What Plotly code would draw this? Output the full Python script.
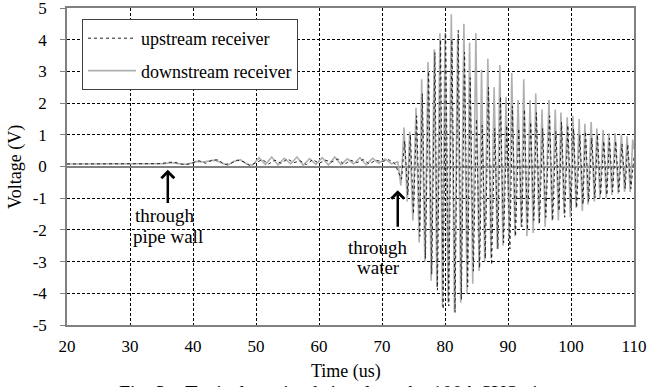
import plotly.graph_objects as go

# ---------------- data ----------------
# pre-arrival part (time in us, voltage in V)
up_pre_t = [20, 34, 35, 36, 37, 38, 39, 40, 41, 42, 43, 44, 45, 46, 47, 48, 49, 50, 51, 52,
            53, 54, 55, 56, 57, 58, 59, 60, 61, 62, 63, 64, 65, 66, 67, 68, 69, 70, 71, 72]
up_pre_v = [0.08, 0.08, 0.09, 0.13, 0.14, 0.08, 0.06, 0.12, 0.18, 0.1, 0.2, 0.21, 0.06, 0.1,
            0.2, 0.15, 0.03, 0.12, 0.22, 0.08, 0.2, 0.1, 0.24, 0.12, 0.18, 0.06, 0.22, 0.1,
            0.2, 0.14, 0.24, 0.06, 0.2, 0.12, 0.22, 0.08, 0.2, 0.15, 0.22, 0.1]

dn_pre_t = [20, 35, 35.5, 36.5, 37.5, 38.5, 39.5, 40.5, 41.5, 42.5, 43.5, 44.5, 45.5, 46.5,
            47.5, 48.5, 49.5, 50.5, 51.5, 52.5, 53.5, 54.5, 55.5, 56.5, 57.5, 58.5, 59.5,
            60.5, 61.5, 62.5, 63.5, 64.5, 65.5, 66.5, 67.5, 68.5, 69.5, 70.5, 71.5, 72.5]
dn_pre_v = [0.08, 0.08, 0.09, 0.12, 0.1, 0.07, 0.09, 0.16, 0.14, 0.16, 0.2, 0.12, 0.04, 0.16,
            0.22, 0.08, 0.05, 0.28, 0.06, 0.3, 0.05, 0.26, 0.08, 0.3, 0.04, 0.25, 0.07, 0.28,
            0.05, 0.3, 0.06, 0.24, 0.08, 0.28, 0.05, 0.26, 0.1, 0.24, 0.08, 0.15]

# through-water burst: positive and negative peaks
dn_pos_t = [73.5, 74.4, 75.4, 76.3, 77.3, 78.3, 79.2, 80.0, 81.0, 82.0, 83.0, 83.9, 84.9, 85.8,
            86.8, 87.8, 88.7, 89.7, 90.6, 91.6, 92.5, 93.5, 94.4, 95.4, 96.5, 97.5, 98.4, 99.4,
            100.3, 101.3, 102.2, 103.2, 104.1, 105.1, 106.0, 107.0, 108.0, 108.9, 109.8]
dn_pos_v = [1.23, 1.1, 1.85, 2.75, 3.3, 3.7, 4.2, 4.2, 4.8, 4.0, 4.5, 3.9, 4.2, 3.05, 3.4, 2.5,
            3.2, 2.2, 2.95, 2.1, 2.75, 2.1, 2.3, 1.8, 2.1, 1.8, 1.7, 1.55, 1.6, 1.5, 1.35, 1.4,
            1.2, 1.15, 1.05, 1.05, 1.0, 0.95, 0.85]
dn_neg_t = [73.0, 74.0, 74.9, 75.9, 76.8, 77.8, 78.7, 79.6, 80.5, 81.5, 82.5, 83.5, 84.4, 85.4,
            86.3, 87.3, 88.3, 89.2, 90.2, 91.1, 92.1, 93.0, 94.0, 94.9, 95.9, 97.0, 98.0, 98.9,
            99.9, 100.8, 101.8, 102.7, 103.7, 104.6, 105.6, 106.5, 107.5, 108.5, 109.4, 110.0]
dn_neg_v = [-0.6, -1.1, -1.7, -2.4, -3.0, -3.6, -3.8, -4.4, -4.3, -4.6, -4.3, -4.0, -3.7, -3.3,
            -3.0, -2.9, -2.6, -2.5, -2.3, -2.2, -1.9, -2.2, -2.1, -1.8, -1.9, -1.7, -1.7, -1.5,
            -1.6, -1.3, -1.4, -1.2, -1.1, -1.0, -1.0, -0.9, -0.85, -0.8, -0.8, 0.55]

up_pos_t = [73.6, 74.5, 75.5, 76.4, 77.4, 78.4, 79.3, 80.1, 81.1, 82.1, 83.1, 84.0, 85.0, 85.9,
            86.9, 87.9, 88.8, 89.8, 90.7, 91.7, 92.6, 93.6, 94.5, 95.5, 96.6, 97.6, 98.5, 99.5,
            100.4, 101.4, 102.3, 103.3, 104.2, 105.2, 106.1, 107.1, 108.1, 109.0]
up_pos_v = [0.8, 1.0, 1.6, 2.3, 3.0, 3.6, 4.0, 4.3, 4.0, 4.3, 3.6, 2.8, 1.5, 1.3, 2.5, 1.2,
            2.2, 1.3, 1.9, 1.2, 1.8, 1.4, 1.7, 1.2, 1.6, 1.1, 1.4, 1.3, 1.2, 1.0, 1.1, 0.9,
            1.0, 0.8, 0.9, 0.8, 0.7, 0.7]
up_neg_t = [73.1, 74.1, 75.0, 76.0, 76.9, 77.9, 78.8, 79.7, 80.6, 81.6, 82.6, 83.6, 84.5, 85.5,
            86.4, 87.4, 88.4, 89.3, 90.3, 91.2, 92.2, 93.1, 94.1, 95.0, 96.0, 97.1, 98.1, 99.0,
            100.0, 100.9, 101.9, 102.8, 103.8, 104.7, 105.7, 106.6, 107.6, 108.6, 109.5, 110.0]
up_neg_v = [-0.4, -0.9, -1.5, -2.2, -2.9, -3.4, -3.9, -4.5, -4.4, -4.6, -4.2, -3.8, -3.3, -3.2,
            -2.9, -3.1, -2.6, -2.4, -2.6, -2.2, -1.9, -2.0, -1.7, -1.8, -1.6, -1.7, -1.4, -1.6,
            -1.3, -1.3, -1.2, -1.1, -1.0, -0.9, -0.9, -0.8, -0.8, -0.7, -0.7, 0.3]

x_ticks = [20, 30, 40, 50, 60, 70, 80, 90, 100, 110]
y_ticks = [-5, -4, -3, -2, -1, 0, 1, 2, 3, 4, 5]
y_tick_labels = ["-5", "-4", "-3", "-2", "-1", "0", "1", "2", "3", "4", "5"]


def merge(*pairs):
    pts = []
    for t, v in pairs:
        pts.extend(zip(t, v))
    pts.sort(key=lambda p: p[0])
    return [p[0] for p in pts], [p[1] for p in pts]


up_t, up_v = merge((up_pre_t, up_pre_v), (up_pos_t, up_pos_v), (up_neg_t, up_neg_v))
dn_t, dn_v = merge((dn_pre_t, dn_pre_v), (dn_pos_t, dn_pos_v), (dn_neg_t, dn_neg_v))

FONT = "Liberation Serif"
W, H = 658, 387
L, R, T, B = 67, 24, 8, 62
PW, PH = W - L - R, H - T - B


def px_x(px):
    return (px - L) / PW


def px_y(py):
    return (H - B - py) / PH


fig = go.Figure()
fig.add_trace(go.Scatter(
    x=dn_t, y=dn_v, mode="lines", name="downstream receiver",
    line=dict(color="#b0b0b0", width=1.6), legendgroup="dn", legendrank=2,
))
fig.add_trace(go.Scatter(
    x=up_t, y=up_v, mode="lines", name="upstream receiver",
    line=dict(color="#222222", width=1, dash="3px,3px"), legendgroup="up", legendrank=1,
))

# arrows
fig.add_annotation(x=36, y=-0.1, ax=36, ay=-1.2, axref="x", ayref="y", xref="x", yref="y",
                   text="", showarrow=True, arrowhead=4, arrowsize=1, arrowwidth=2.5,
                   arrowcolor="black")
fig.add_annotation(x=72.5, y=-0.75, ax=72.5, ay=-1.95, axref="x", ayref="y", xref="x", yref="y",
                   text="", showarrow=True, arrowhead=4, arrowsize=1, arrowwidth=2.5,
                   arrowcolor="black")

txt_font = dict(family=FONT, size=19, color="black")
for text, px, py in [("through", 165, 216), ("pipe wall", 168, 236),
                     ("through", 378, 247), ("water", 378, 267)]:
    fig.add_annotation(x=px_x(px), y=px_y(py), xref="paper", yref="paper", text=text,
                       showarrow=False, font=txt_font, xanchor="center", yanchor="middle")

# axis titles
fig.add_annotation(x=px_x(346), y=px_y(371), xref="paper", yref="paper", text="Time (us)",
                   showarrow=False, font=dict(family=FONT, size=18, color="black"),
                   xanchor="center", yanchor="middle")
fig.add_annotation(x=px_x(15), y=px_y(167), xref="paper", yref="paper", text="Voltage (V)",
                   showarrow=False, textangle=-90, font=dict(family=FONT, size=18, color="black"),
                   xanchor="center", yanchor="middle")

# caption (cut off at the bottom of the picture, as in the reference)
fig.add_annotation(x=px_x(338), y=px_y(380), xref="paper", yref="paper",
                   text="Fig. 3.   Typical received signals at the 100A SUS pipe",
                   showarrow=False, font=dict(family=FONT, size=20, color="black"),
                   xanchor="center", yanchor="top")

grid = dict(showgrid=True, gridcolor="black", gridwidth=1, griddash="3px,2px",
            showline=True, linecolor="#808080", linewidth=1.5, mirror=True, automargin=False,
            ticklabeloverflow="allow")

fig.update_layout(
    width=W, height=H,
    margin=dict(l=L, r=R, t=T, b=B, autoexpand=False),
    paper_bgcolor="white", plot_bgcolor="white",
    font=dict(family=FONT, size=17, color="black"),
    showlegend=True,
    legend=dict(x=px_x(82), y=px_y(19), xanchor="left", yanchor="top",
                bgcolor="white", bordercolor="#404040", borderwidth=1,
                font=dict(family=FONT, size=18, color="black"),
                tracegroupgap=6, itemwidth=48),
    xaxis=dict(range=[20, 110], tickvals=x_ticks, ticks="", ticklabelstandoff=5,
               zeroline=False, **grid),
    yaxis=dict(range=[-5, 5], tickvals=y_ticks, ticktext=y_tick_labels, ticks="outside",
               ticklen=5, tickcolor="#808080", ticklabelstandoff=10,
               zeroline=True, zerolinecolor="#808080", zerolinewidth=1.5, **grid),
)

fig.write_html("out.html", config={"displayModeBar": False},
               post_script="document.body.style.margin='0';")
